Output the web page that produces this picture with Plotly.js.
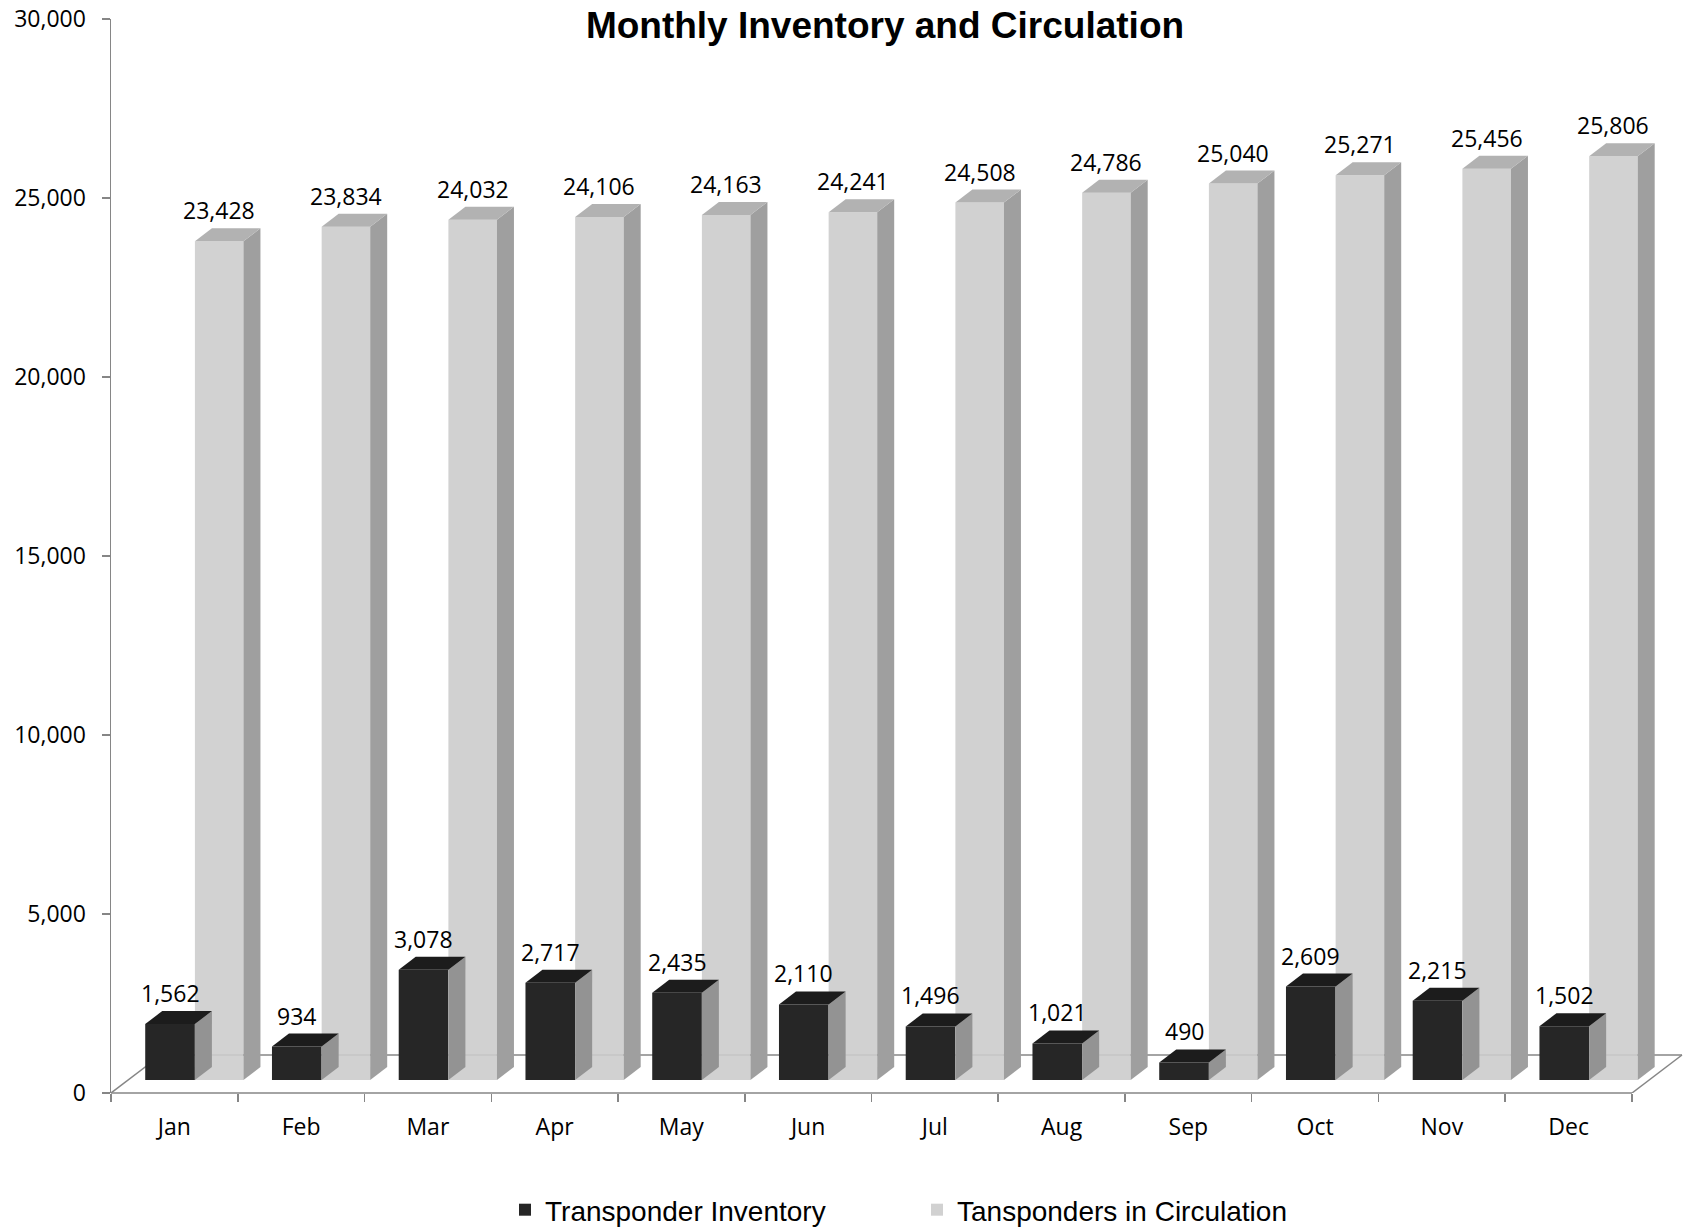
<!DOCTYPE html>
<html>
<head>
<meta charset="utf-8">
<script src="https://cdn.plot.ly/plotly-3.0.1.min.js"></script>
<style>
html,body{margin:0;padding:0;background:#fff;}
#chart{width:1687px;height:1227px;}
</style>
</head>
<body>
<div id="chart"></div>
<script>
// ---------------- data ----------------
const months = ['Jan','Feb','Mar','Apr','May','Jun','Jul','Aug','Sep','Oct','Nov','Dec'];
const inventory = [1562, 934, 3078, 2717, 2435, 2110, 1496, 1021, 490, 2609, 2215, 1502];
const circulation = [23428, 23834, 24032, 24106, 24163, 24241, 24508, 24786, 25040, 25271, 25456, 25806];
const yTickVals = [0, 5000, 10000, 15000, 20000, 25000, 30000];
const seriesNames = ['Transponder Inventory', 'Tansponders in Circulation'];
const chartTitle = 'Monthly Inventory and Circulation';

// ---------------- geometry / style ----------------
const W = 1687, H = 1227;
const M = {l: 111, r: 0, t: 19, b: 134, autoexpand: false};
const X_MIN = -0.5, X_MAX = 11.934, Y_MAX = 30000;
const plotW = W - M.l - M.r, plotH = H - M.t - M.b;
const pxX = plotW / (X_MAX - X_MIN), pxY = plotH / Y_MAX;
const BAR_DX = 17 / pxX, BAR_DY = 13 / pxY;     // depth of each column
const SHIFT_Y = 13 / pxY;                       // columns stand back on the floor
const FLOOR_DX = 50 / pxX, FLOOR_DY = 38 / pxY; // floor depth
const AXIS_COL = '#868686';
const tickFont = {family: 'Open Sans, sans-serif', size: 23, color: '#000'};

const series = [
  {name: seriesNames[0], values: inventory, offset: -0.23, width: 0.392,
   front: '#262626', side: '#939393', top: '#1c1c1c', opacity: 1},
  {name: seriesNames[1], values: circulation, offset: 0.162, width: 0.383,
   front: '#cdcdcd', side: '#9f9f9f', top: '#b2b2b2', opacity: 0.9}
];

const traces = series.map(s => ({
  type: 'bar',
  name: s.name,
  x: months,
  y: s.values,
  base: s.values.map(() => SHIFT_Y),
  offset: s.offset,
  width: s.width,
  opacity: s.opacity,
  marker: {color: s.front, line: {width: 0}},
  hoverinfo: 'skip'
}));

const shapes = [];
// floor
shapes.push({type: 'line', xref: 'x', yref: 'paper', x0: -0.5, x1: 11.5, y0: 0, y1: 0,
  line: {color: AXIS_COL, width: 1.5}, layer: 'below'});
shapes.push({type: 'line', xref: 'x', yref: 'y', x0: -0.5, y0: 0, x1: -0.5 + FLOOR_DX, y1: FLOOR_DY,
  line: {color: AXIS_COL, width: 1.5}, layer: 'below'});
shapes.push({type: 'line', xref: 'x', yref: 'y', x0: -0.5 + FLOOR_DX, y0: FLOOR_DY, x1: 11.5 + FLOOR_DX, y1: FLOOR_DY,
  line: {color: AXIS_COL, width: 1.5}, layer: 'below'});
shapes.push({type: 'line', xref: 'x', yref: 'y', x0: 11.5, y0: 0, x1: 11.5 + FLOOR_DX, y1: FLOOR_DY,
  line: {color: AXIS_COL, width: 1.5}, layer: 'below'});

// column side and top faces
const annotations = [];
series.forEach(s => {
  s.values.forEach((v, i) => {
    const xl = i + s.offset, xr = xl + s.width;
    const y0 = SHIFT_Y, y1 = SHIFT_Y + v;
    shapes.push({type: 'path', xref: 'x', yref: 'y', layer: 'above',
      path: `M${xr},${y0} L${xr},${y1} L${xr + BAR_DX},${y1 + BAR_DY} L${xr + BAR_DX},${y0 + BAR_DY} Z`,
      fillcolor: s.side, line: {width: 0}});
    shapes.push({type: 'path', xref: 'x', yref: 'y', layer: 'above',
      path: `M${xl},${y1} L${xr},${y1} L${xr + BAR_DX},${y1 + BAR_DY} L${xl + BAR_DX},${y1 + BAR_DY} Z`,
      fillcolor: s.top, line: {width: 0}});
    annotations.push({xref: 'x', yref: 'y', x: xl + s.width / 2, y: y1,
      text: v.toLocaleString('en-US'), showarrow: false, yanchor: 'bottom', xanchor: 'center',
      yshift: 13, font: tickFont});
  });
});

const layout = {
  width: W, height: H, margin: M,
  paper_bgcolor: '#fff', plot_bgcolor: 'rgba(0,0,0,0)',
  barmode: 'overlay',
  hovermode: false,
  title: {text: chartTitle, xref: 'container', yref: 'container',
    x: 885 / W, xanchor: 'center', y: 1 - 25 / H, yanchor: 'middle',
    font: {family: 'Liberation Sans, Arial, sans-serif', size: 37, color: '#000', weight: 'bold'}},
  xaxis: {type: 'category', categoryarray: months, range: [X_MIN, X_MAX],
    tickson: 'boundaries', ticks: 'outside', ticklen: 8, tickwidth: 1.5, tickcolor: AXIS_COL,
    showline: false, showgrid: false, zeroline: false, tickfont: tickFont,
    ticklabelstandoff: 18, fixedrange: true, automargin: false},
  yaxis: {range: [0, Y_MAX], tickvals: yTickVals, tickformat: ',d',
    ticks: 'outside', ticklen: 8, tickwidth: 1.5, tickcolor: AXIS_COL,
    showline: true, linecolor: AXIS_COL, linewidth: 1.5,
    showgrid: false, zeroline: false, tickfont: tickFont,
    ticklabelstandoff: 11, fixedrange: true, automargin: false},
  legend: {orientation: 'h', x: (505 - M.l) / plotW, xanchor: 'left',
    y: -(1210 - (H - M.b)) / plotH, yanchor: 'middle',
    font: {family: 'Liberation Sans, Arial, sans-serif', size: 28, color: '#000'},
    entrywidth: 367, entrywidthmode: 'pixels', traceorder: 'normal', bgcolor: 'rgba(0,0,0,0)'},
  shapes: shapes,
  annotations: annotations
};

Plotly.newPlot('chart', traces, layout, {displayModeBar: false, staticPlot: true});
</script>
</body>
</html>
